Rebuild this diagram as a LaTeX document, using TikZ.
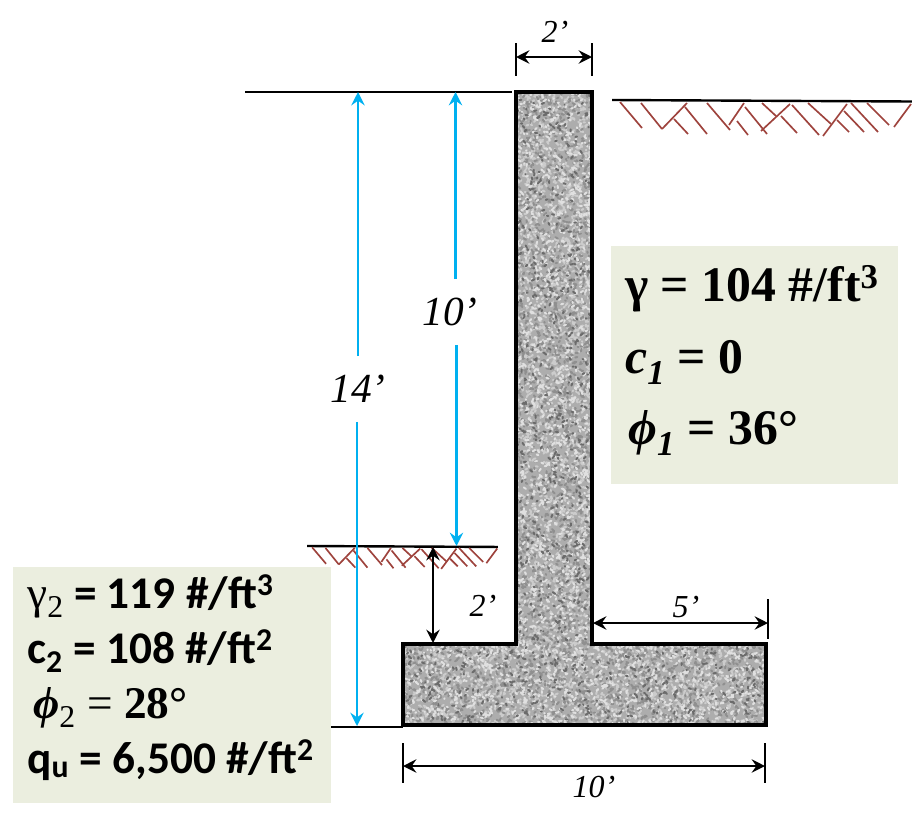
\documentclass[tikz,border=0pt]{standalone}
\usepackage{fontspec}
\setmainfont{Liberation Serif}
\newfontfamily\calfont{Carlito}
\usepackage{xcolor}
\usetikzlibrary{calc}
\usetikzlibrary{arrows.meta}
\definecolor{panelgreen}{HTML}{EBEEDF}
\definecolor{soilred}{HTML}{9E433D}
\definecolor{dimblue}{HTML}{00B0F0}
\tikzset{soil line/.style={color=soilred,line width=1.25pt},
ground line/.style={line width=1.8pt,color=black},
dim tick/.style={line width=1.5pt,color=black}}
\newcommand{\soilhatch}{
 \draw[ground line] (0,0)--(300,1.5);
 \foreach \xa/\ya/\xb/\yb in {8/2/30/28,29/3/50/29,50/29/75/3,62/19/76/34,73/7/95/34,
   95/3/118/30,117/25/132/3,133/7/155/34,125/21/136/35,150/3/164/16,149/31/178/4,
   169/16/185/33,180/5/207/35,196/3/219/24,211/36/235/4,225/20/237/32,232/11/252/32,
   239/3/266/32,255/3/277/25,282/27/299/4}
 {\draw[soil line] (\xa,\ya)--(\xb,\yb);}
}
\newcommand{\grains}[6]{
 \draw[color=#6,line width=1.5pt,line cap=round] foreach \n in {1,...,#5} {({#1+rnd*#3},{#2+rnd*#4}) -- ++({rnd*5-2.5},{rnd*5-2.5})};
}
\begin{document}
\begin{tikzpicture}[x=0.75pt,y=-0.75pt,>={Stealth[length=10pt,width=10pt,inset=3.5pt]},
                    panel/.style={fill=panelgreen,draw=none},
                    big prop/.style={anchor=base west,inner sep=0pt,font=\fontsize{37.3}{37}\selectfont\bfseries},
                    small prop/.style={anchor=base west,inner sep=0pt,font=\fontsize{34}{34}\selectfont\calfont\bfseries},
                    dim label/.style={inner sep=0pt,font=\fontsize{24}{24}\selectfont\itshape},
                    long label/.style={inner sep=0pt,minimum height=49pt,font=\fontsize{31}{31}\selectfont\itshape},
                    black dim/.style={<->,line width=1.9pt,color=black},
                    blue dim/.style={line width=2.1pt,color=dimblue}]
\useasboundingbox (0,0) rectangle (912,825);

%DRAWING panels

 \fill[panel] (611,246) rectangle (898,484);

%DRAWING soil

 \begin{scope}[shift={(612,100)}]
  \soilhatch
 \end{scope}
 \begin{scope}[shift={(307,546)},scale=0.636]
  \soilhatch
 \end{scope}

 \fill[panel] (13,567) rectangle (331,803);

%DRAWING the wall

 \coordinate (StemTopL) at (516,92);
 \coordinate (StemTopR) at (592,92);
 \coordinate (StemFootR) at (592,644);
 \coordinate (FootTopR) at (766,644);
 \coordinate (FootBotR) at (766,725);
 \coordinate (FootBotL) at (403,725);
 \coordinate (FootTopL) at (403,644);
 \coordinate (StemFootL) at (516,644);

 \begin{scope}
  \clip (StemTopL)--(StemTopR)--(StemFootR)--(FootTopR)--(FootBotR)--(FootBotL)--(FootTopL)--(StemFootL)--cycle;
  \fill[color=black!32] (403,92) rectangle (766,725);
  \pgfmathsetseed{4217}
  \grains{516}{92}{76}{552}{2000}{black!20}
  \grains{403}{644}{363}{81}{1400}{black!20}
  \grains{516}{92}{76}{552}{1500}{black!44}
  \grains{403}{644}{363}{81}{1050}{black!44}
  \grains{516}{92}{76}{552}{1100}{black!12}
  \grains{403}{644}{363}{81}{800}{black!12}
  \grains{516}{92}{76}{552}{450}{black!58}
  \grains{403}{644}{363}{81}{320}{black!58}
 \end{scope}
 \draw[line width=3pt,color=black,line join=miter] (StemTopL)--(StemTopR)--(StemFootR)--(FootTopR)--(FootBotR)--(FootBotL)--(FootTopL)--(StemFootL)--cycle;

%Levels on the left

 \coordinate (TopLevelL) at (245,92);
 \coordinate (TopLevelR) at (512,92);
 \coordinate (BaseLevelL) at (331,727);
 \coordinate (BaseLevelR) at (403,727);
 \draw[ground line] (TopLevelL)--(TopLevelR);
 \draw[ground line] (BaseLevelL)--(BaseLevelR);

%Blue dimensions

 \coordinate (Top14) at (358,92);
 \coordinate (Bot14) at (357,726);
 \coordinate (Top10) at (455.5,92);
 \coordinate (Bot10) at (456.5,546);
 \node[long label] (Label14) at (358,389) {14’};
 \node[long label] (Label10) at (450,312) {10’};
 \draw[blue dim,->] (Top14 |- Label14.north)--(Top14);
 \draw[blue dim,->] (Bot14 |- Label14.south)--(Bot14);
 \draw[blue dim,->] (Top10 |- Label10.north)--(Top10);
 \draw[blue dim,->] (Bot10 |- Label10.south)--(Bot10);

%Black dimensions

 \coordinate (TopTickLA) at (516,43);
 \coordinate (TopTickLB) at (516,76);
 \coordinate (TopTickRA) at (592,43);
 \coordinate (TopTickRB) at (592,76);
 \draw[dim tick] (TopTickLA)--(TopTickLB);
 \draw[dim tick] (TopTickRA)--(TopTickRB);
 \coordinate (TopDimL) at (516,57);
 \coordinate (TopDimR) at (592,57);
 \draw[black dim] (TopDimL)--(TopDimR);
 \node[dim label] (LabelTop) at (555,32) {2’};

 \coordinate (EmbedTop) at (433,547);
 \coordinate (EmbedBot) at (433,643);
 \draw[black dim] (EmbedTop)--(EmbedBot);
 \node[dim label] (LabelEmbed) at (483,606) {2’};

 \coordinate (ToeTickA) at (768,599);
 \coordinate (ToeTickB) at (768,639);
 \draw[dim tick] (ToeTickA)--(ToeTickB);
 \coordinate (ToeDimL) at (593,623);
 \coordinate (ToeDimR) at (768,623);
 \draw[black dim] (ToeDimL)--(ToeDimR);
 \node[dim label] (LabelToe) at (686,607) {5’};

 \coordinate (BaseTickLA) at (403,743);
 \coordinate (BaseTickLB) at (403,783);
 \coordinate (BaseTickRA) at (765,743);
 \coordinate (BaseTickRB) at (765,783);
 \draw[dim tick] (BaseTickLA)--(BaseTickLB);
 \draw[dim tick] (BaseTickRA)--(BaseTickRB);
 \coordinate (BaseDimL) at (403,766);
 \coordinate (BaseDimR) at (765,766);
 \draw[black dim] (BaseDimL)--(BaseDimR);
 \node[dim label] (LabelBase) at (594,787) {10’};

%Inserting the soil properties

 \node[big prop] (GammaOne) at (625,301) {γ = 104 \#/ft\textsuperscript{3}};
 \node[big prop] (COne) at (625,373) {\textit{c\textsubscript{1}} = 0};
 \node[big prop] (PhiOne) at (628,444) {\textit{ϕ\textsubscript{1}} = 36°};

 \node[small prop] (GammaTwo) at (27,608) {{\rmfamily\mdseries γ\textsubscript{2}} = 119 \#/ft\textsuperscript{3}};
 \node[small prop] (CTwo) at (27,663) {c\textsubscript{2} = 108 \#/ft\textsuperscript{2}};
 \node[small prop] (PhiTwo) at (33,718) {\rmfamily\mdseries\textit{\textbf{ϕ}}\textsubscript{2} = \textbf{28°}};
 \node[small prop] (QU) at (27,773) {q\textsubscript{u} = 6,500 \#/ft\textsuperscript{2}};

\end{tikzpicture}
\end{document}
